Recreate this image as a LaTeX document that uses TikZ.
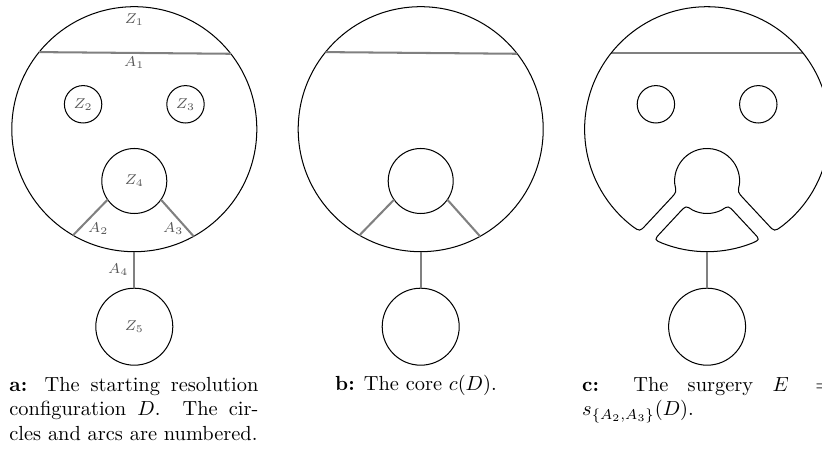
\documentclass[tikz,border=0pt]{standalone}
\begin{document}
\hbadness=10000
\begin{tikzpicture}[x=0.49pt,y=0.49pt,
  circ/.style={circle, draw=black, line width=0.5pt, inner sep=0pt, outer sep=0pt, text=black!65, font=\scriptsize},
  arcline/.style={draw=black!50, line width=1pt},
  lab/.style={text=black!65, font=\scriptsize, inner sep=0pt},
  captxt/.style={inner sep=0pt, font=\normalsize, text=black},
  surg/.style={draw=black, line width=0.5pt, line join=round}]
\path[use as bounding box, clip] (0,0) rectangle (822,449);

% ---------- panel a ----------
\begin{scope}[shift={(134.3,0)}]
  \node[circ, minimum size=120.05pt] (a-big) at (0,319.8) {};
  \node[circ, minimum size=18.33pt] (a-z2) at (-51.2,344.7) {$Z_2$};
  \node[circ, minimum size=18.33pt] (a-z3) at (51.2,344.7) {$Z_3$};
  \node[circ, minimum size=31.85pt] (a-z4) at (0,268) {$Z_4$};
  \node[circ, minimum size=37.73pt] (a-z5) at (0,122.3) {$Z_5$};
  \draw[arcline] (a-big.141.7) -- (a-big.38.3);
  \draw[arcline] (a-z4.215) -- (a-big.240.5);
  \draw[arcline] (a-z4.325) -- (a-big.299.5);
  \draw[arcline] (a-big.south) -- (a-z5.north);
  \node[lab] (a-lz1) at (0,429) {$Z_1$};
  \node[lab] (a-la1) at (0,386) {$A_1$};
  \node[lab] (a-la2) at (-36,220) {$A_2$};
  \node[lab] (a-la3) at (39,220) {$A_3$};
  \node[lab] (a-la4) at (-16,179) {$A_4$};
\end{scope}

% ---------- panel b ----------
\begin{scope}[shift={(420.7,0)}]
  \node[circ, minimum size=120.05pt] (b-big) at (0,319.8) {};
  \node[circ, minimum size=31.85pt] (b-z4) at (0,268) {};
  \node[circ, minimum size=37.73pt] (b-z5) at (0,122.3) {};
  \draw[arcline] (b-big.141.7) -- (b-big.38.3);
  \draw[arcline] (b-z4.215) -- (b-big.240.5);
  \draw[arcline] (b-z4.325) -- (b-big.299.5);
  \draw[arcline] (b-big.south) -- (b-z5.north);
\end{scope}

% ---------- panel c ----------
\begin{scope}[shift={(707.1,0)}]
  \node[circ, minimum size=18.33pt] (c-z2) at (-51.2,344.7) {};
  \node[circ, minimum size=18.33pt] (c-z3) at (51.2,344.7) {};
  \node[circ, minimum size=37.73pt] (c-z5) at (0,122.3) {};
  \coordinate (c-l) at (-96.2,395.7);
  \coordinate (c-r) at (96.2,395.7);
  \coordinate (c-bot) at (0,197.3);
  \draw[arcline] (c-l) -- (c-r);
  % outer component
  \draw[surg] (74.58,222.61) arc[start angle=307.5, end angle=592.5, radius=122.5]
     .. controls (-67.29,217.43) .. (-61.15,224.02)
     -- (-36.67,250.28)
     .. controls (-30.53,256.87) .. (-32.32,264.60)
     arc[start angle=186, end angle=-6, radius=32.5]
     .. controls (30.53,256.87) .. (36.67,250.28)
     -- (61.15,224.02)
     .. controls (67.29,217.43) .. (74.58,222.61) -- cycle;
  % lower component
  \draw[surg] (-14.65,238.99) arc[start angle=243.2, end angle=296.8, radius=32.5]
     .. controls (21.22,243.38) .. (27.36,236.79)
     -- (46.80,215.92)
     .. controls (52.94,209.33) .. (44.70,205.74)
     arc[start angle=291.4, end angle=248.6, radius=122.5]
     .. controls (-52.94,209.33) .. (-46.80,215.92)
     -- (-27.36,236.79)
     .. controls (-21.22,243.38) .. (-14.65,238.99) -- cycle;
  \draw[arcline] (c-bot) -- (c-z5.north);
\end{scope}

% ---------- captions ----------
\node[captxt, text width=122pt, align=justify, anchor=north west] (cap-a) at (9,72.2)
  {\textbf{a:} The starting resolution\linebreak configuration $D$. The cir-\linebreak cles and arcs are numbered.};
\node[captxt, anchor=base] (cap-b) at (416,58) {\textbf{b:} The core $c(D)$.};
\node[captxt, text width=122pt, align=justify, anchor=north west] (cap-c) at (581.8,72.2)
  {\textbf{c:} The surgery $E =$\linebreak $s_{\{A_2,A_3\}}(D)$.};
\end{tikzpicture}
\end{document}
